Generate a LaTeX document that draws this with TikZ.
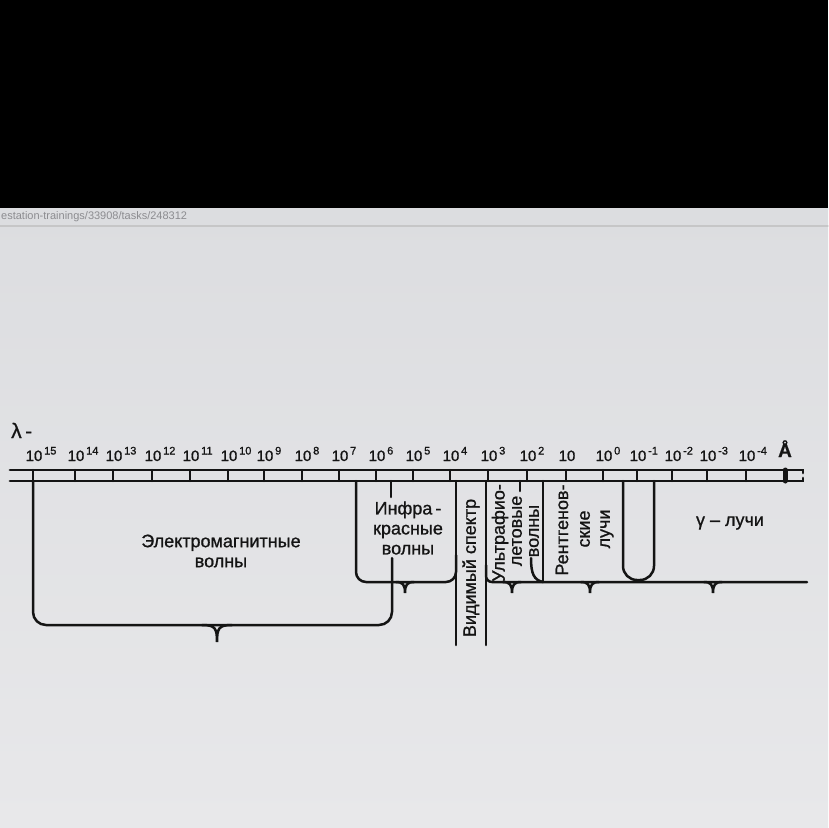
\documentclass[tikz,border=0pt]{standalone}
\usepackage{fontspec}
\setmainfont{Liberation Sans}
\newfontfamily\inkfont{Liberation Sans}[FakeBold=0.9]
\usepackage{tikz}
\usetikzlibrary{calc}
\definecolor{screen}{RGB}{232,232,234}
\definecolor{screentop}{RGB}{220,221,224}
\definecolor{ink}{RGB}{20,20,20}
\definecolor{urlgray}{RGB}{140,140,144}
\newcommand{\pwr}[1]{10\rlap{\raisebox{6.5pt}{\fontsize{11}{11}\selectfont\,#1}}}

\begin{document}
\begin{tikzpicture}[x=1pt, y=-1pt, line cap=round,
  rul/.style={ink, line width=2.8pt},
  tk/.style={ink, line width=2.2pt},
  brk/.style={ink, line width=2.5pt},
  lbl/.style={ink, font=\inkfont\fontsize{18}{20}\selectfont, align=center, inner sep=0pt},
  num/.style={ink, font=\inkfont\fontsize{15}{15}\selectfont, anchor=base, inner sep=0pt}]
\useasboundingbox (0,0) rectangle (828,828);
% screen photo
\shade[top color=screentop, bottom color=screen] (0,208) rectangle (828,828);
\draw[urlgray!50, line width=1.2pt] (0,226) -- (828,226);
\node[urlgray, font=\fontsize{11}{11}\selectfont, anchor=base west, inner sep=0pt] (url) at (1,219) {estation-trainings/33908/tasks/248312};
\fill[black] (0,0) rectangle (828,208);

% scale
\draw[rul] (10,470) -- (803,470) -- ++(0,3);
\draw[rul] (10,481) -- (803,481) -- ++(0,-3);
\draw[ink, line width=5pt] (785,470) -- (785,481);
\foreach \x/\e [count=\i] in {33/15,75/14,113/13,152/12,190/11,228/10,264/9,302/8,339/7,376/6,413/5,450/4,488/3,527/2,566/,603/0,637/{-1},672/{-2},707/{-3},746/{-4}} {
  \draw[tk] (\x,470) -- (\x,481);
  \node[num] (p\i) at (\x+1,461) {\pwr{\e}};
}
\node[num, font=\inkfont\fontsize{19}{19}\selectfont\bfseries] (ang) at (785,457) {Å};
\node[num, anchor=base west, font=\inkfont\fontsize{21}{21}\selectfont] (lam) at (11,438) {λ\,-};

% ranges
\draw[brk, rounded corners=13pt] (33,481) -- (33,625) -- (392,625) -- (392,558);
\draw[brk] (391,481) -- (391,497);
\draw[brk, rounded corners=10pt] (356,481) -- (356,582) -- (456,582) -- (456,555);
\draw[brk] (456,481) -- (456,645);
\draw[brk] (486,481) -- (486,645);
\draw[brk, rounded corners=6pt] (486,565) -- (486,582) -- (807,582);
\draw[brk] (520,481) -- (520,491);
\draw[brk] (531,558) .. controls (531,574) and (534,580) .. (543,582);
\draw[brk] (543,481) -- (543,582);
\draw[brk, rounded corners=14pt] (623,481) -- (623,580) -- (654,580) -- (654,481);
\foreach \cx/\cy/\cw/\cd in {217/625/15/17, 405/582/9/11, 512/582/9/11, 590/582/9/11, 713/582/9/11} {
  \draw[brk] (\cx-\cw,\cy) .. controls (\cx-2,\cy) and (\cx,\cy+3) .. (\cx,\cy+\cd)
    .. controls (\cx,\cy+3) and (\cx+2,\cy) .. (\cx+\cw,\cy);
}

% labels
\node[lbl] (em) at (221,551) {Электромагнитные\\волны};
\node[lbl] (ir) at (408,528) {Инфра\,-\\красные\\волны};
\node[lbl, rotate=90] (vis) at (471,568) {Видимый спектр};
\node[lbl, rotate=90] (uv1) at (500,533) {Ультрафио-};
\node[lbl, rotate=90] (uv2) at (517,531) {летовые};
\node[lbl, rotate=90] (uv3) at (534,531) {волны};
\node[lbl, rotate=90] (xr1) at (562,530) {Рентгенов-};
\node[lbl, rotate=90] (xr2) at (585,529) {ские};
\node[lbl, rotate=90] (xr3) at (607,529) {лучи};
\node[lbl] (gam) at (730,523) {γ – лучи};
\end{tikzpicture}
\end{document}
